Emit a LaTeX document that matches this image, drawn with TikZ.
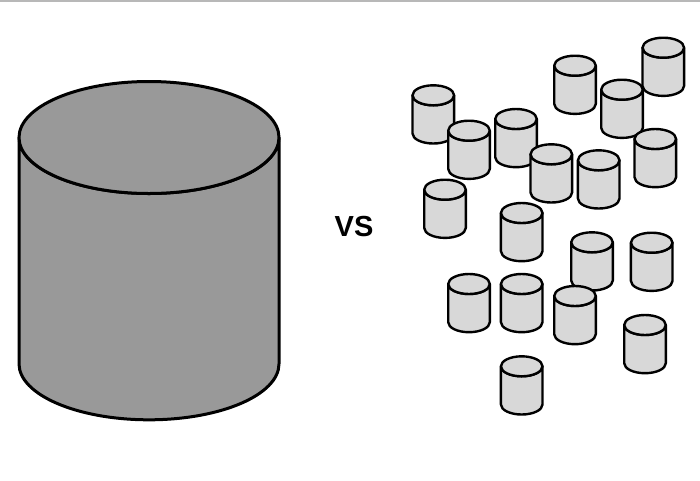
\documentclass[tikz,border=0pt]{standalone}
\usepackage{fontspec}
\setmainfont{Liberation Sans}
\definecolor{big}{HTML}{999999}
\definecolor{small}{HTML}{D8D8D8}
\definecolor{bar}{HTML}{B8B8B8}
\tikzset{
  bigcyl/.style={draw=black,fill=big,line width=3pt,line join=round},
  smallcyl/.style={draw=black,fill=small,line width=2.4pt,line join=round},
}
% #1 style, #2 cx, #3 top-centre y, #4 rx, #5 ry, #6 height
\newcommand{\drumshape}[6]{%
  \path[#1] (#2-#4,#3) -- (#2-#4,#3+#6) arc[start angle=180,end angle=360,x radius=#4,y radius=-#5]
    -- (#2+#4,#3) arc[start angle=0,end angle=180,x radius=#4,y radius=#5] -- cycle;
  \path[#1] (#2,#3) ellipse[x radius=#4,y radius=#5];
}
\newcommand{\smalldrum}[2]{\drumshape{smallcyl}{#1}{#2+10}{20.8}{10}{38.2}}
\begin{document}
\begin{tikzpicture}[x=1pt,y=-1pt]
\useasboundingbox (0,0) rectangle (700,480);
\fill[white] (0,0) rectangle (700,480);
\fill[bar] (0,0) rectangle (700,2);
\drumshape{bigcyl}{149}{137.5}{130}{56}{226.3}
\node[font=\bfseries\fontsize{29}{29}\selectfont,inner sep=0pt,text=black] (vs) at (354,226.3) {VS};
\smalldrum{433.3}{85.3}
\smalldrum{469}{120.7}
\smalldrum{516}{109}
\smalldrum{551.3}{144.3}
\smalldrum{598.7}{150.3}
\smalldrum{575}{55.7}
\smalldrum{663.3}{37.7}
\smalldrum{622}{79.7}
\smalldrum{655.3}{129}
\smalldrum{445}{179.7}
\smalldrum{521.7}{203}
\smalldrum{592}{232.3}
\smalldrum{651.7}{232.7}
\smalldrum{469}{274}
\smalldrum{521.7}{274}
\smalldrum{575}{286}
\smalldrum{645}{315}
\smalldrum{521.7}{356.3}
\end{tikzpicture}
\end{document}
